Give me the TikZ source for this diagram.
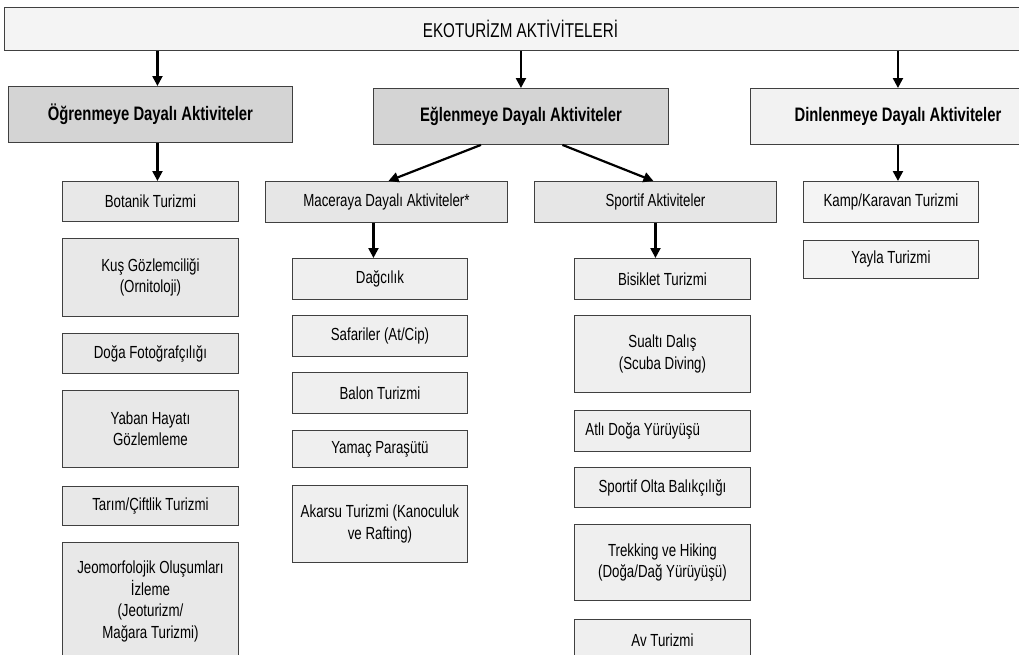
\documentclass[tikz,border=0pt]{standalone}
\usepackage{fontspec}
\setmainfont[FakeStretch=0.76]{Liberation Sans}
\usetikzlibrary{arrows.meta,shadows}
\definecolor{cTop}{HTML}{F4F4F4}
\definecolor{cCat}{HTML}{D4D4D4}
\definecolor{cCatL}{HTML}{F2F2F2}
\definecolor{cLeft}{HTML}{E8E8E8}
\definecolor{cSub}{HTML}{E6E6E6}
\definecolor{cMid}{HTML}{EFEFEF}
\definecolor{cRight}{HTML}{F4F4F4}
\definecolor{cLine}{HTML}{404040}
\tikzset{
  bx/.style 2 args={draw=cLine, line width=0.9pt, anchor=north west, inner sep=0pt,
    minimum width=#1pt, minimum height=#2pt, align=center,
    font=\fontsize{17.5}{21.5}\selectfont,
    drop shadow={shadow xshift=0.9pt, shadow yshift=-0.9pt, fill=black!55, opacity=1}},
  catfont/.style={font=\fontsize{19.5}{22}\selectfont\bfseries},
  arr/.style={line width=2.2pt, -{Triangle[length=10pt,width=10pt]}},
}
\begin{document}
\begin{tikzpicture}[x=1pt,y=-1pt]
\useasboundingbox[fill=white] (0,0) rectangle (1019,654);
\begin{scope}
\clip (0,0) rectangle (1019,654);
% top
\node[bx={1032}{43}, fill=cTop, font=\fontsize{20}{22}\selectfont] (top) at (4,7) {EKOTURİZM AKTİVİTELERİ};
% categories
\node[bx={284}{56}, fill=cCat, catfont] (ogr) at (8,86) {Öğrenmeye Dayalı Aktiviteler};
\node[bx={295}{56}, fill=cCat, catfont] (egl) at (373,88) {Eğlenmeye Dayalı Aktiviteler};
\node[bx={295}{56}, fill=cCatL, catfont] (din) at (750,88) {Dinlenmeye Dayalı Aktiviteler};
% left column
\node[bx={176}{40}, fill=cLeft] (bot) at (62,181) {Botanik Turizmi};
\node[bx={176}{78}, fill=cLeft] (kus) at (62,238) {Kuş Gözlemciliği\\(Ornitoloji)};
\node[bx={176}{40}, fill=cLeft] (dfo) at (62,333) {Doğa Fotoğrafçılığı};
\node[bx={176}{77}, fill=cLeft] (yab) at (62,390) {Yaban Hayatı\\Gözlemleme};
\node[bx={176}{39}, fill=cLeft] (tar) at (62,486) {Tarım/Çiftlik Turizmi};
\node[bx={176}{118}, fill=cLeft] (jeo) at (62,542) {Jeomorfolojik Oluşumları\\İzleme\\(Jeoturizm/\\Mağara Turizmi)};
% sub categories
\node[bx={242}{41}, fill=cSub] (mac) at (265,181) {Maceraya Dayalı Aktiviteler*};
\node[bx={242}{41}, fill=cSub] (spo) at (534,181) {Sportif Aktiviteler};
% macera column
\node[bx={175}{41}, fill=cMid] (dag) at (292,258) {Dağcılık};
\node[bx={175}{41}, fill=cMid] (saf) at (292,315) {Safariler (At/Cip)};
\node[bx={175}{41}, fill=cMid] (bal) at (292,372) {Balon Turizmi};
\node[bx={175}{37}, fill=cMid] (yam) at (292,430) {Yamaç Paraşütü};
\node[bx={175}{77}, fill=cMid] (aka) at (292,485) {Akarsu Turizmi (Kanoculuk\\ve Rafting)};
% sportif column
\node[bx={176}{41}, fill=cMid] (bis) at (574,258) {Bisiklet Turizmi};
\node[bx={176}{77}, fill=cMid] (sua) at (574,315) {Sualtı Dalış\\(Scuba Diving)};
\node[bx={176}{41}, fill=cMid] (atl) at (574,410) {\makebox[154pt][l]{Atlı Doğa Yürüyüşü}};
\node[bx={176}{40}, fill=cMid] (olt) at (574,467) {Sportif Olta Balıkçılığı};
\node[bx={176}{76}, fill=cMid] (tre) at (574,524) {Trekking ve Hiking\\(Doğa/Dağ Yürüyüşü)};
\node[bx={176}{42}, fill=cMid] (av) at (574,619) {Av Turizmi};
% right column
\node[bx={175}{41}, fill=cRight] (kam) at (803,181) {Kamp/Karavan Turizmi};
\node[bx={175}{38}, fill=cRight] (yay) at (803,240) {Yayla Turizmi};
% arrows
\draw[arr] ([xshift=7pt]ogr.north |- top.south) -- ([xshift=7pt]ogr.north);
\draw[arr] (egl.north |- top.south) -- (egl.north);
\draw[arr] (din.north |- top.south) -- (din.north);
\draw[arr] ([xshift=7pt]ogr.south) -- ([xshift=7pt]ogr.south |- bot.north);
\draw[arr] ([xshift=-40pt]egl.south) -- ([xshift=2pt]mac.north);
\draw[arr] ([xshift=41.5pt]egl.south) -- ([xshift=-2pt]spo.north);
\draw[arr] (din.south) -- (din.south |- kam.north);
\draw[arr] ([xshift=-13pt]mac.south) -- ([xshift=-13pt]mac.south |- dag.north);
\draw[arr] (spo.south) -- (spo.south |- bis.north);
\end{scope}
\end{tikzpicture}
\end{document}
